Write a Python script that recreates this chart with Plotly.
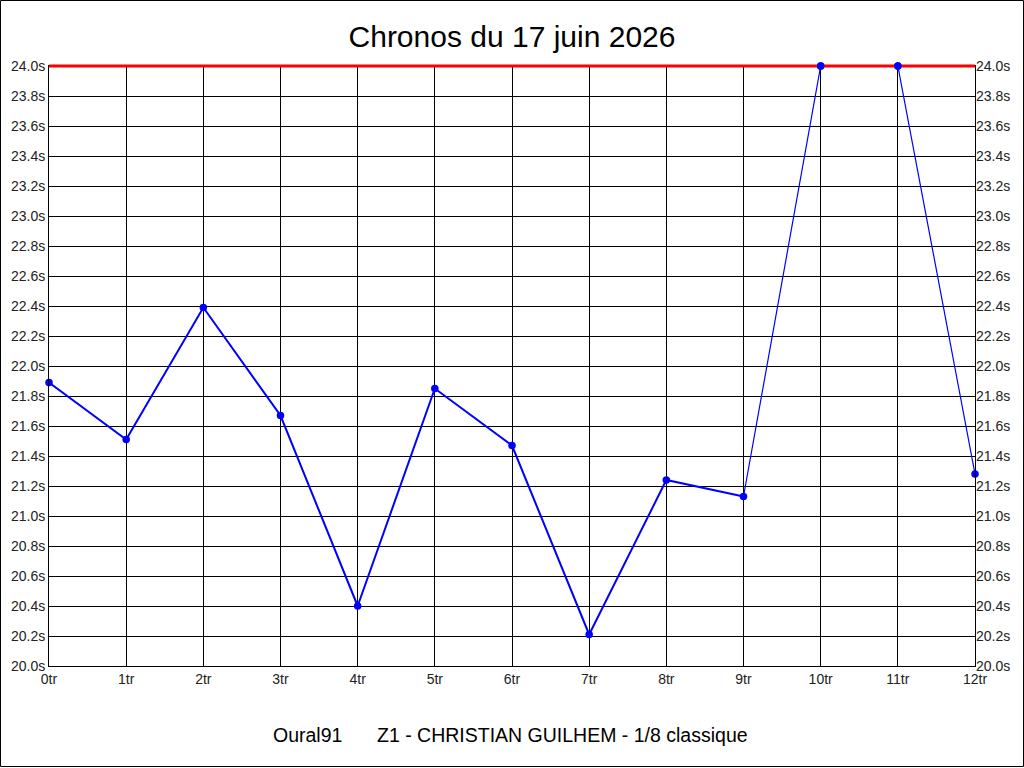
import plotly.graph_objects as go

laps = ["0tr", "1tr", "2tr", "3tr", "4tr", "5tr", "6tr", "7tr", "8tr", "9tr", "10tr", "11tr", "12tr"]
times = [21.89, 21.51, 22.39, 21.67, 20.40, 21.85, 21.47, 20.21, 21.24, 21.13, 24.0, 24.0, 21.28]
y_ticks = [20.0 + 0.2 * i for i in range(21)]
y_labels = [f"{v:.1f}s" for v in y_ticks]
limit = 24.0
y_range = [20.0, 24.0]
title_text = "Chronos du 17 juin 2026"
footer_left = "Oural91"
footer_right = "Z1 - CHRISTIAN GUILHEM - 1/8 classique"

W, H = 1024, 768
L, R, T, B = 49, 49, 66, 102
pw, ph = W - L - R, H - T - B

def px_x(x):
    return (x - L) / pw

def px_y(y):
    return (H - B - y) / ph

xs = list(range(len(laps)))
FONT = "Liberation Sans, Arial, sans-serif"

fig = go.Figure()
fig.add_trace(go.Scatter(
    x=xs[:10], y=times[:10], mode="lines",
    line=dict(color="#0000ff", width=2), hoverinfo="skip", showlegend=False,
))
fig.add_trace(go.Scatter(
    x=xs[9:], y=times[9:], mode="lines",
    line=dict(color="#0000ff", width=1.2), hoverinfo="skip", showlegend=False,
))
# right-side axis labels
fig.add_trace(go.Scatter(x=[0], y=[20.0], yaxis="y2", mode="markers",
                         marker=dict(opacity=0), showlegend=False, hoverinfo="skip"))

# limit line (paper-referenced so it isn't clipped at the plot edge)
lim_frac = (limit - y_range[0]) / (y_range[1] - y_range[0])
fig.add_shape(type="line", xref="paper", yref="paper", x0=0, x1=1, y0=lim_frac, y1=lim_frac,
              line=dict(color="#ff0000", width=3), layer="above")

# markers for the points sitting on the limit line, drawn above it
top_x = [x for x, t in zip(xs, times) if t >= limit]
top_frac = [(t - y_range[0]) / (y_range[1] - y_range[0]) for t in times if t >= limit]
for x, f in zip(top_x, top_frac):
    fig.add_shape(type="circle", xref="x", yref="paper", xsizemode="pixel", ysizemode="pixel",
                  xanchor=x, yanchor=f, x0=-3.75, x1=3.75, y0=-3.75, y1=3.75,
                  fillcolor="#0000ff", line=dict(width=0), layer="above")

fig.add_trace(go.Scatter(
    x=xs, y=times, mode="markers",
    marker=dict(color="#0000ff", size=7.5), showlegend=False,
    cliponaxis=False,
))

# outer frame
fig.add_shape(type="rect", xref="paper", yref="paper",
              x0=px_x(0.5), x1=px_x(W - 0.5), y0=px_y(H - 1.5), y1=px_y(0.5),
              line=dict(color="black", width=1), fillcolor="rgba(0,0,0,0)", layer="below")

fig.add_annotation(text=footer_left, xref="paper", yref="paper",
                   x=px_x(344), y=px_y(735), xanchor="right", yanchor="middle",
                   showarrow=False, font=dict(family=FONT, size=19.5, color="black"))
fig.add_annotation(text=footer_right, xref="paper", yref="paper",
                   x=px_x(375), y=px_y(735), xanchor="left", yanchor="middle",
                   showarrow=False, font=dict(family=FONT, size=19.5, color="black"))

axis_font = dict(family=FONT, size=14, color="#222222")
fig.update_layout(
    width=W, height=H,
    margin=dict(l=L, r=R, t=T, b=B, pad=0),
    paper_bgcolor="white", plot_bgcolor="white",
    title=dict(text=title_text, x=0.5, xref="paper", xanchor="center",
               y=1 - 36 / H, yanchor="middle", yref="container",
               font=dict(family=FONT, size=30, color="black")),
    xaxis=dict(range=[0, len(laps) - 1], tickvals=xs, ticktext=laps,
               showgrid=True, gridcolor="black", gridwidth=1,
               showline=True, linecolor="black", linewidth=1, mirror=True,
               ticks="", ticklen=0, tickfont=axis_font, zeroline=False,
               fixedrange=True),
    yaxis=dict(range=y_range, tickvals=y_ticks, ticktext=y_labels,
               showgrid=True, gridcolor="black", gridwidth=1,
               showline=True, linecolor="black", linewidth=1, mirror=True,
               ticks="", tickfont=axis_font, zeroline=False, fixedrange=True),
    yaxis2=dict(range=y_range, tickvals=y_ticks, ticktext=y_labels,
                overlaying="y", side="right", showgrid=False, zeroline=False,
                showline=False, ticks="", tickfont=axis_font, fixedrange=True),
)

fig.write_html(
    "out.html",
    config={"displayModeBar": False},
    post_script="document.body.style.margin='0';document.body.style.overflow='hidden';",
)
